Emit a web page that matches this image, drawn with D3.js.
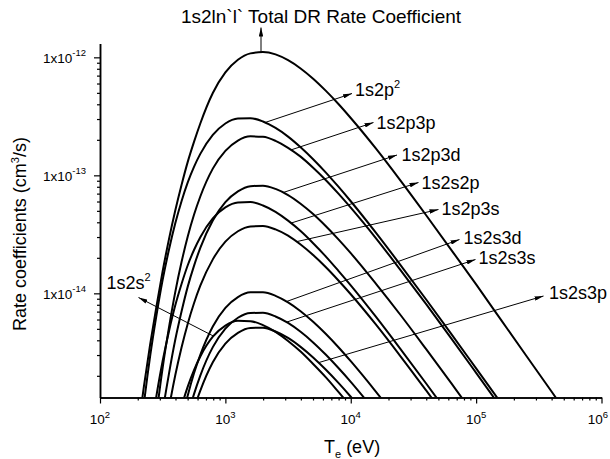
<!DOCTYPE html>
<html><head><meta charset="utf-8">
<script src="https://cdn.jsdelivr.net/npm/d3@7/dist/d3.min.js"></script>
<style>
body{margin:0;background:#fff}
svg{display:block}
text{font-family:"Liberation Sans",Arial,Helvetica,sans-serif;fill:#000}
</style>
</head><body>
<svg id="chart" width="610" height="459"></svg>
<script>
// ---------- data ----------
const temps = [200, 224, 251, 282, 316, 355, 398, 447, 501, 562, 631, 794, 1000, 1259, 1585, 1995,
  2512, 3162, 3981, 5012, 6310, 7943, 10000, 15849, 25119, 39811, 63096, 100000, 158489, 251189, 398107, 630957];

const totalRate = [6.64e-16, 1.63e-15, 3.67e-15, 7.76e-15, 1.54e-14, 2.88e-14, 5.01e-14, 8.28e-14, 1.30e-13, 1.92e-13,
  2.75e-13, 4.98e-13, 7.45e-13, 9.53e-13, 1.08e-12, 1.11e-12, 1.06e-12, 9.46e-13, 8.05e-13, 6.59e-13, 5.22e-13,
  4.04e-13, 3.06e-13, 1.69e-13, 8.93e-14, 4.61e-14, 2.35e-14, 1.19e-14, 5.93e-15, 2.96e-15, 1.48e-15, 7.33e-16];
const rate1s2p2 = [4.04e-16, 1.16e-15, 2.92e-15, 6.50e-15, 1.30e-14, 2.35e-14, 3.90e-14, 6.03e-14, 8.71e-14, 1.18e-13,
  1.52e-13, 2.20e-13, 2.75e-13, 3.03e-13, 3.05e-13, 2.86e-13, 2.52e-13, 2.13e-13, 1.73e-13, 1.37e-13, 1.06e-13,
  8.05e-14, 6.03e-14, 3.27e-14, 1.72e-14, 8.91e-15, 4.56e-15, 2.31e-15, 1.17e-15, null, null, null];
const rate1s2p3p = [null, null, 3.27e-16, 9.35e-16, 2.34e-15, 5.15e-15, 1.02e-14, 1.84e-14, 3.03e-14, 4.63e-14,
  6.62e-14, 1.14e-13, 1.61e-13, 1.97e-13, 2.14e-13, 2.12e-13, 1.96e-13, 1.71e-13, 1.44e-13, 1.16e-13, 9.14e-14,
  7.03e-14, 5.32e-14, 2.94e-14, 1.56e-14, 8.13e-15, 4.18e-15, 2.12e-15, 1.07e-15, null, null, null];
const rate1s2p3d = [null, null, null, 4.21e-16, 9.93e-16, 2.09e-15, 4.02e-15, 7.01e-15, 1.14e-14, 1.71e-14,
  2.43e-14, 4.14e-14, 5.92e-14, 7.31e-14, 8.09e-14, 8.17e-14, 7.67e-14, 6.81e-14, 5.75e-14, 4.70e-14, 3.72e-14,
  2.88e-14, 2.19e-14, 1.21e-14, 6.49e-15, 3.38e-15, 1.74e-15, 8.86e-16, null, null, null, null];
const rate1s2s2p = [null, null, 6.22e-16, 1.36e-15, 2.67e-15, 4.78e-15, 7.87e-15, 1.20e-14, 1.73e-14, 2.33e-14,
  2.99e-14, 4.31e-14, 5.35e-14, 5.89e-14, 5.93e-14, 5.55e-14, 4.90e-14, 4.13e-14, 3.37e-14, 2.66e-14, 2.06e-14,
  1.56e-14, 1.17e-14, 6.35e-15, 3.34e-15, 1.73e-15, 8.85e-16, null, null, null, null, null];
const rate1s2p3s = [null, null, null, null, 5.20e-16, 1.07e-15, 2.01e-15, 3.47e-15, 5.53e-15, 8.24e-15,
  1.16e-14, 1.94e-14, 2.74e-14, 3.36e-14, 3.69e-14, 3.72e-14, 3.48e-14, 3.08e-14, 2.59e-14, 2.11e-14, 1.67e-14,
  1.29e-14, 9.82e-15, 5.45e-15, 2.90e-15, 1.51e-15, 7.78e-16, null, null, null, null, null];
const rate1s2s3d = [null, null, null, null, null, null, 4.58e-16, 8.24e-16, 1.36e-15, 2.10e-15,
  3.01e-15, 5.23e-15, 7.52e-15, 9.29e-15, 1.02e-14, 1.02e-14, 9.53e-15, 8.39e-15, 7.06e-15, 5.74e-15, 4.54e-15,
  3.51e-15, 2.66e-15, 1.47e-15, 7.83e-16, null, null, null, null, null, null, null];
const rate1s2s3s = [null, null, null, null, null, null, null, 5.51e-16, 9.12e-16, 1.40e-15,
  2.01e-15, 3.50e-15, 5.02e-15, 6.21e-15, 6.82e-15, 6.84e-15, 6.37e-15, 5.61e-15, 4.72e-15, 3.84e-15, 3.03e-15,
  2.34e-15, 1.78e-15, 9.82e-16, null, null, null, null, null, null, null, null];
const rate1s2s3p = [null, null, null, null, null, null, null, null, 6.81e-16, 1.05e-15,
  1.50e-15, 2.61e-15, 3.75e-15, 4.63e-15, 5.09e-15, 5.11e-15, 4.75e-15, 4.19e-15, 3.52e-15, 2.86e-15, 2.26e-15,
  1.75e-15, 1.33e-15, 7.33e-16, null, null, null, null, null, null, null, null];
const rate1s2s2 = [null, null, null, null, null, null, 6.89e-16, 1.10e-15, 1.62e-15, 2.24e-15,
  2.92e-15, 4.29e-15, 5.33e-15, 5.85e-15, 5.81e-15, 5.38e-15, 4.72e-15, 3.95e-15, 3.21e-15, 2.52e-15, 1.95e-15,
  1.47e-15, 1.10e-15, null, null, null, null, null, null, null, null, null];

const seriesNames = ["total", "1s2p2", "1s2p3p", "1s2p3d", "1s2s2p", "1s2p3s", "1s2s3d", "1s2s3s", "1s2s3p", "1s2s2"];
const seriesValues = [totalRate, rate1s2p2, rate1s2p3p, rate1s2p3d, rate1s2s2p, rate1s2p3s, rate1s2s3d, rate1s2s3s, rate1s2s3p, rate1s2s2];

const xMajorTicks = [1e2, 1e3, 1e4, 1e5, 1e6];
const xTickExponents = ["2", "3", "4", "5", "6"];
const yMajorTicks = [1e-14, 1e-13, 1e-12];
const yTickExponents = ["-14", "-13", "-12"];

// ---------- layout ----------
const svg = d3.select("#chart");
const x = d3.scaleLog().domain([1e2, 1e6]).range([100, 601.5]);
const y = d3.scaleLog().domain([1.31e-15, 1.31e-12]).range([397.5, 43.5]);

const defs = svg.append("defs");
defs.append("clipPath").attr("id", "plotclip").append("rect")
  .attr("x", 100).attr("y", 0).attr("width", 510).attr("height", 397.5);
defs.append("marker").attr("id", "ah").attr("viewBox", "0 0 10 6")
  .attr("refX", 10).attr("refY", 3).attr("markerWidth", 9).attr("markerHeight", 4.5)
  .attr("markerUnits", "userSpaceOnUse").attr("orient", "auto").attr("preserveAspectRatio", "none")
  .append("path").attr("d", "M0,0L10,3L0,6Z").attr("fill", "#000");

// minor ticks
const minorX = [];
for (let e = 2; e < 6; e++) for (let m = 2; m <= 9; m++) minorX.push(m * Math.pow(10, e));
const minorY = [];
for (let e = -15; e < -12; e++) for (let m = 2; m <= 9; m++) { const v = m * Math.pow(10, e); if (v >= 1.31e-15 && v <= 1.31e-12) minorY.push(v); }

const gx = svg.append("g").attr("transform", "translate(0,397.5)");
gx.call(d3.axisBottom(x).tickValues(minorX).tickSize(3).tickFormat("").tickSizeOuter(0));
gx.append("g").call(d3.axisBottom(x).tickValues(xMajorTicks).tickSize(6).tickFormat("").tickSizeOuter(0));
const gy = svg.append("g").attr("transform", "translate(100,0)");
gy.call(d3.axisLeft(y).tickValues(minorY).tickSize(3).tickFormat("").tickSizeOuter(0));
gy.append("g").call(d3.axisLeft(y).tickValues(yMajorTicks).tickSize(6).tickFormat("").tickSizeOuter(0));
svg.selectAll(".domain").attr("stroke", "#000").attr("stroke-width", 1.5);
svg.selectAll(".tick line").attr("stroke", "#000").attr("stroke-width", 1.2);

// tick labels
xMajorTicks.forEach((v, i) => {
  const last = i === xMajorTicks.length - 1;
  const t = svg.append("text").attr("x", last ? 608 : x(v)).attr("y", 424)
    .attr("text-anchor", last ? "end" : "middle").attr("font-size", 13.5);
  t.append("tspan").text("10");
  t.append("tspan").attr("dy", -6).attr("font-size", 9.5).text(xTickExponents[i]);
});
yMajorTicks.forEach((v, i) => {
  const t = svg.append("text").attr("x", 86).attr("y", y(v) + 6).attr("text-anchor", "end").attr("font-size", 13.5);
  t.append("tspan").text("1x10");
  t.append("tspan").attr("dy", -7).attr("font-size", 9.5).text(yTickExponents[i]);
});

// axis titles
const xt = svg.append("text").attr("x", 324).attr("y", 453).attr("font-size", 18);
xt.append("tspan").text("T");
xt.append("tspan").attr("dy", 5).attr("font-size", 11).text("e");
xt.append("tspan").attr("dy", -5).text(" (eV)");
const yt = svg.append("text").attr("transform", "translate(26,234) rotate(-90)").attr("text-anchor", "middle").attr("font-size", 18);
yt.append("tspan").text("Rate coefficients (cm");
yt.append("tspan").attr("dy", -7).attr("font-size", 11).text("3");
yt.append("tspan").attr("dy", 7).text("/s)");

// curves
const line = d3.line().defined(d => d[1] != null).x(d => x(d[0])).y(d => y(d[1])).curve(d3.curveMonotoneX);
const gc = svg.append("g").attr("clip-path", "url(#plotclip)");
seriesValues.forEach((vals, i) => {
  gc.append("path").datum(temps.map((t, j) => [t, vals[j]]))
    .attr("d", line).attr("fill", "none").attr("stroke", "#000").attr("stroke-width", 2);
});

// value of a series at a temperature (log-log between read points), for arrow tails
function valueAt(vals, T) {
  for (let j = 0; j < temps.length - 1; j++) {
    if (T >= temps[j] && T <= temps[j + 1] && vals[j] != null && vals[j + 1] != null) {
      const f = (Math.log(T) - Math.log(temps[j])) / (Math.log(temps[j + 1]) - Math.log(temps[j]));
      return Math.exp(Math.log(vals[j]) + f * (Math.log(vals[j + 1]) - Math.log(vals[j])));
    }
  }
  return null;
}

// annotations (layout)
const notes = [
  {s: 0, tx: 261, ax: 261, ay: 27.5},
  {s: 1, tx: 265, ax: 352, ay: 93.5, lx: 355, ly: 95.5, txt: "1s2p", sup: "2"},
  {s: 2, tx: 291, ax: 373.5, ay: 122.5, lx: 376.5, ly: 128.5, txt: "1s2p3p"},
  {s: 3, tx: 283, ax: 397, ay: 155, lx: 401.5, ly: 160.5, txt: "1s2p3d"},
  {s: 4, tx: 291, ax: 418.5, ay: 182.5, lx: 421.5, ly: 188.5, txt: "1s2s2p"},
  {s: 5, tx: 296.5, ax: 438.5, ay: 209.5, lx: 441.5, ly: 215, txt: "1s2p3s"},
  {s: 6, tx: 286.5, ax: 459.5, ay: 239.5, lx: 463.5, ly: 243.5, txt: "1s2s3d"},
  {s: 7, tx: 286.5, ax: 475.5, ay: 259.5, lx: 478.5, ly: 263.5, txt: "1s2s3s"},
  {s: 8, tx: 318.5, ax: 543.5, ay: 296, lx: 549, ly: 298.5, txt: "1s2s3p"},
  {s: 9, tx: 213.5, ax: 138.5, ay: 297.5, lx: 106.5, ly: 288.5, txt: "1s2s", sup: "2"}
];
notes.forEach(n => {
  const v = valueAt(seriesValues[n.s], x.invert(n.tx));
  svg.append("line").attr("x1", n.tx).attr("y1", y(v)).attr("x2", n.ax).attr("y2", n.ay)
    .attr("stroke", "#000").attr("stroke-width", 1).attr("marker-end", "url(#ah)");
  if (n.txt) {
    const t = svg.append("text").attr("x", n.lx).attr("y", n.ly).attr("font-size", 18);
    t.append("tspan").text(n.txt);
    if (n.sup) t.append("tspan").attr("dy", -8).attr("font-size", 11).text(n.sup);
  }
});

svg.append("text").attr("x", 321).attr("y", 23).attr("text-anchor", "middle").attr("font-size", 19)
  .text("1s2ln`l` Total DR Rate Coefficient");
</script>
</body></html>
